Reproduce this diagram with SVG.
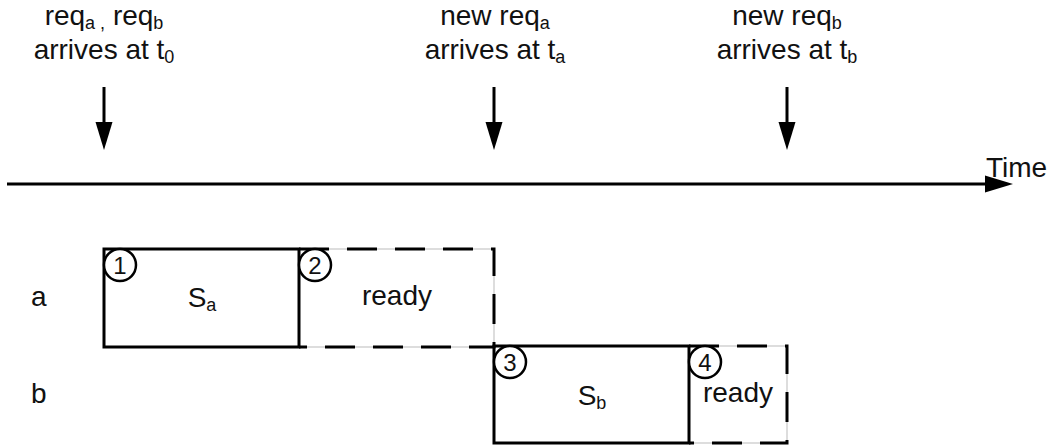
<svg xmlns="http://www.w3.org/2000/svg" width="1049" height="447" viewBox="0 0 1049 447">
  <style>
    text { font-family: "Liberation Sans", Arial, sans-serif; font-size: 28px; fill: #111; }
    .sub { font-size: 18px; }
    .num { font-size: 24px; }
    .solid { fill: none; stroke: #000; stroke-width: 3; }
    .guide { fill: none; stroke: #bbb; stroke-width: 1; }
    .dash { fill: none; stroke: #000; stroke-width: 3; stroke-dasharray: 30 18; }
    .ring { fill: #fff; stroke: #000; stroke-width: 2.5; }
    .axis { stroke: #000; stroke-width: 3; fill: none; }
    .head { fill: #000; stroke: none; }
  </style>

  <!-- arrival labels -->
  <g id="label-t0">
    <text x="104" y="25" text-anchor="middle">req<tspan class="sub" dy="4">a ,</tspan><tspan dy="-4"> req</tspan><tspan class="sub" dy="4">b</tspan></text>
    <text x="104" y="59" text-anchor="middle">arrives at t<tspan class="sub" dy="4">0</tspan></text>
  </g>
  <g id="label-ta">
    <text x="495" y="25" text-anchor="middle">new req<tspan class="sub" dy="4">a</tspan></text>
    <text x="495" y="59" text-anchor="middle">arrives at t<tspan class="sub" dy="4">a</tspan></text>
  </g>
  <g id="label-tb">
    <text x="787" y="25" text-anchor="middle">new req<tspan class="sub" dy="4">b</tspan></text>
    <text x="787" y="59" text-anchor="middle">arrives at t<tspan class="sub" dy="4">b</tspan></text>
  </g>

  <!-- time axis and arrival arrows -->
  <g id="connectors">
    <line class="axis" x1="7" y1="184" x2="990" y2="184"/>
    <polygon class="head" points="985,175.5 1013,184 985,192.5"/>
    <line class="axis" x1="104" y1="87" x2="104" y2="125"/>
    <polygon class="head" points="95.5,122 112.5,122 104,150"/>
    <line class="axis" x1="494" y1="87" x2="494" y2="125"/>
    <polygon class="head" points="485.5,122 502.5,122 494,150"/>
    <line class="axis" x1="787" y1="87" x2="787" y2="125"/>
    <polygon class="head" points="778.5,122 795.5,122 787,150"/>
  </g>
  <text id="time-label" x="986" y="177">Time</text>

  <!-- row labels -->
  <g id="row-a"><text x="31" y="306">a</text></g>
  <g id="row-b"><text x="31" y="403">b</text></g>

  <!-- task a: service then ready -->
  <g id="ready-a">
    <rect class="guide" x="299" y="249" width="195" height="98"/>
    <polyline class="dash" points="299,249 494,249 494,347 299,347"/>
    <text x="397" y="305" text-anchor="middle">ready</text>
  </g>
  <g id="service-a">
    <rect class="solid" x="104" y="249" width="195" height="98"/>
    <text x="202" y="307" text-anchor="middle">S<tspan class="sub" dy="4">a</tspan></text>
  </g>

  <!-- task b: service then ready -->
  <g id="ready-b">
    <rect class="guide" x="689" y="346" width="98" height="97"/>
    <polyline class="dash" points="689,346 787,346 787,443 689,443"/>
    <text x="738" y="402" text-anchor="middle">ready</text>
  </g>
  <g id="service-b">
    <rect class="solid" x="494" y="346" width="195" height="97"/>
    <text x="592" y="405" text-anchor="middle">S<tspan class="sub" dy="4">b</tspan></text>
  </g>

  <!-- numbered state markers -->
  <g id="marker-1"><circle class="ring" cx="120" cy="265" r="16"/><text class="num" x="120" y="274" text-anchor="middle">1</text></g>
  <g id="marker-2"><circle class="ring" cx="315" cy="265" r="16"/><text class="num" x="315" y="274" text-anchor="middle">2</text></g>
  <g id="marker-3"><circle class="ring" cx="510" cy="362" r="16"/><text class="num" x="510" y="371" text-anchor="middle">3</text></g>
  <g id="marker-4"><circle class="ring" cx="705" cy="362" r="16"/><text class="num" x="705" y="371" text-anchor="middle">4</text></g>
</svg>
